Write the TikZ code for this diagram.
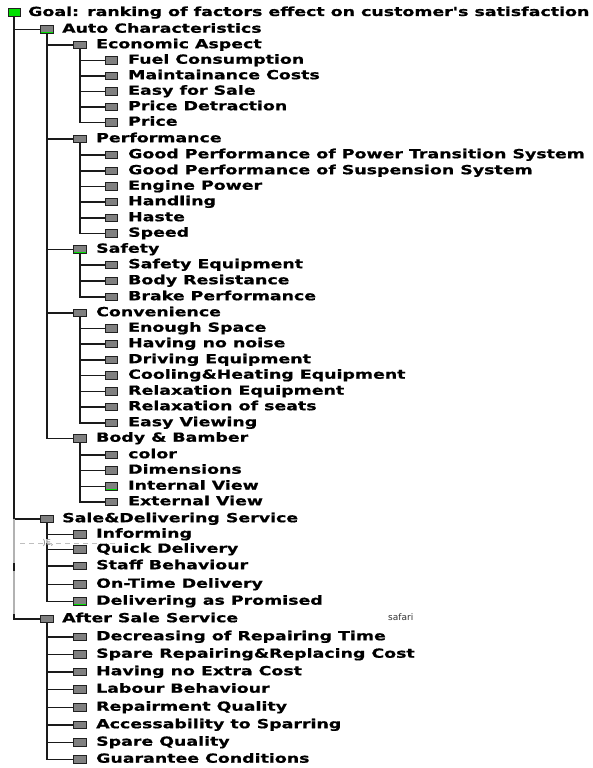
\documentclass[tikz,border=0pt]{standalone}
\usepackage{fontspec}
\setmainfont{DejaVu Sans}
\newfontfamily\lblfont[FakeStretch=1.39,FakeBold=0.8]{DejaVu Sans Bold}
\definecolor{boxgray}{HTML}{808080}
\definecolor{boxline}{HTML}{202020}
\definecolor{brightgreen}{HTML}{00E000}
\definecolor{darkgreen}{HTML}{1F5F1F}
\definecolor{linecol}{HTML}{1A1A1A}
\pgfdeclarelayer{wires}
\pgfsetlayers{wires,main}
% x of the icon centre and of the label start for each tree level
\newcommand\lvx[1]{\ifcase#1 14\or 47\or 80\or 111.5\fi}
\newcommand\lvt[1]{\ifcase#1 28\or 62\or 96\or 128\fi}
\tikzset{
  icon/.style={draw=boxline, fill=boxgray, line width=0.9pt,
    minimum width=12.5pt, minimum height=7.5pt, inner sep=0pt},
  gbar/.style={path picture={\draw[brightgreen, line width=1.8pt]
    (path picture bounding box.south west) -- (path picture bounding box.south east);}},
  dbar/.style={path picture={\draw[darkgreen, line width=1.5pt]
    (path picture bounding box.south west) -- (path picture bounding box.south east);}},
  goalicon/.style={draw=boxline, fill=brightgreen, line width=0.9pt,
    minimum width=12pt, minimum height=8pt, inner sep=0pt},
  lbl/.style={anchor=base west, inner sep=0pt, font=\lblfont\fontsize{12.5}{14}\selectfont},
  conn/.style={draw=linecol, line width=1.1pt},
}
% one row of the tree: name, level, y, icon style, label
\newcommand\trow[5]{%
  \node[icon,#4] (#1) at (\lvx{#2},-#3) {};
  \node[lbl] (#1-t) at (\lvt{#2},-#3-3.2) {#5};
}
\begin{document}
\begin{tikzpicture}[x=1pt,y=1pt]
\useasboundingbox (0,0) rectangle (592,-768);

\node[goalicon] (goal) at (14,-12.5) {};
\node[lbl] (goal-t) at (28,-16) {Goal: ranking of factors effect on customer's satisfaction};

\trow{auto}{1}{29.5}{gbar}{Auto Characteristics}
\trow{eco}{2}{45}{}{Economic Aspect}
\trow{fuel}{3}{60.5}{}{Fuel Consumption}
\trow{maint}{3}{76}{gbar}{Maintainance Costs}
\trow{easy}{3}{91.5}{dbar}{Easy for Sale}
\trow{pdet}{3}{107}{}{Price Detraction}
\trow{price}{3}{122.5}{dbar}{Price}
\trow{perf}{2}{139}{}{Performance}
\trow{gpow}{3}{155}{}{Good Performance of Power Transition System}
\trow{gsus}{3}{171}{}{Good Performance of Suspension System}
\trow{engine}{3}{186.5}{dbar}{Engine Power}
\trow{handl}{3}{202}{}{Handling}
\trow{haste}{3}{218}{dbar}{Haste}
\trow{speed}{3}{233.5}{dbar}{Speed}
\trow{safety}{2}{249.5}{gbar}{Safety}
\trow{safeq}{3}{265}{dbar}{Safety Equipment}
\trow{bodyres}{3}{281}{}{Body Resistance}
\trow{brake}{3}{297}{gbar}{Brake Performance}
\trow{conv}{2}{313}{}{Convenience}
\trow{space}{3}{328.5}{}{Enough Space}
\trow{noise}{3}{344}{}{Having no noise}
\trow{driv}{3}{360}{}{Driving Equipment}
\trow{cool}{3}{375.5}{}{Cooling\&Heating Equipment}
\trow{relaxeq}{3}{391.5}{}{Relaxation Equipment}
\trow{relaxs}{3}{407}{}{Relaxation of seats}
\trow{view}{3}{423}{dbar}{Easy Viewing}
\trow{body}{2}{438.5}{}{Body \& Bamber}
\trow{color}{3}{455}{}{color}
\trow{dim}{3}{470.5}{}{Dimensions}
\trow{intv}{3}{486.5}{gbar}{Internal View}
\trow{extv}{3}{502}{gbar}{External View}
\trow{sale}{1}{519}{gbar}{Sale\&Delivering Service}
\trow{inform}{2}{534.5}{}{Informing}
\trow{quick}{2}{549.5}{}{Quick Delivery}
\trow{staff}{2}{566}{}{Staff Behaviour}
\trow{ontime}{2}{584.5}{dbar}{On-Time Delivery}
\trow{deliv}{2}{601.5}{gbar}{Delivering as Promised}
\trow{after}{1}{619}{dbar}{After Sale Service}
\trow{decr}{2}{637}{}{Decreasing of Repairing Time}
\trow{spare}{2}{654.5}{}{Spare Repairing\&Replacing Cost}
\trow{extra}{2}{672}{}{Having no Extra Cost}
\trow{labour}{2}{689.5}{}{Labour Behaviour}
\trow{repq}{2}{707.5}{dbar}{Repairment Quality}
\trow{access}{2}{725}{}{Accessability to Sparring}
\trow{spq}{2}{742.5}{dbar}{Spare Quality}
\trow{guar}{2}{759.5}{}{Guarantee Conditions}

% connectors: each runs down from the parent icon and across to the child
\begin{pgfonlayer}{wires}
\fill[white] (0,0) rectangle (592,-768);
\foreach \c in {auto,sale} \draw[conn] (goal.south) |- (\c.west);
\draw[conn, draw=black!30] (sale.west -| goal.south) -- (goal.south |- after.west);
\draw[conn] (goal.south |- 0,-563) -- (goal.south |- 0,-571);
\draw[conn] (goal.south |- 0,-614) |- (after.west);
\foreach \c in {eco,perf,safety,conv,body} \draw[conn] (auto.south) |- (\c.west);
\foreach \c in {fuel,maint,easy,pdet,price} \draw[conn] (eco.south) |- (\c.west);
\foreach \c in {gpow,gsus,engine,handl,haste,speed} \draw[conn] (perf.south) |- (\c.west);
\foreach \c in {safeq,bodyres,brake} \draw[conn] (safety.south) |- (\c.west);
\foreach \c in {space,noise,driv,cool,relaxeq,relaxs,view} \draw[conn] (conv.south) |- (\c.west);
\foreach \c in {color,dim,intv,extv} \draw[conn] (body.south) |- (\c.west);
\foreach \c in {inform,quick,staff,ontime,deliv} \draw[conn] (sale.south) |- (\c.west);
\foreach \c in {decr,spare,extra,labour,repq,access,spq,guar} \draw[conn] (after.south) |- (\c.west);
\end{pgfonlayer}

% worn streak through the service rows
\fill[white] (20,-538.8) rectangle (180,-543.2);
\draw[black!25, dash pattern=on 5pt off 4pt, line width=0.6pt] (20,-543.5) -- (115,-543.5);
\node[inner sep=0pt, text=black!55, font=\fontsize{8}{8}\selectfont] (streak) at (48,-542.5) {)E,};

\node[anchor=base west, inner sep=0pt, text=black!80, font=\fontsize{9}{10}\selectfont] (safari) at (388,-620) {safari};
\end{tikzpicture}
\end{document}
